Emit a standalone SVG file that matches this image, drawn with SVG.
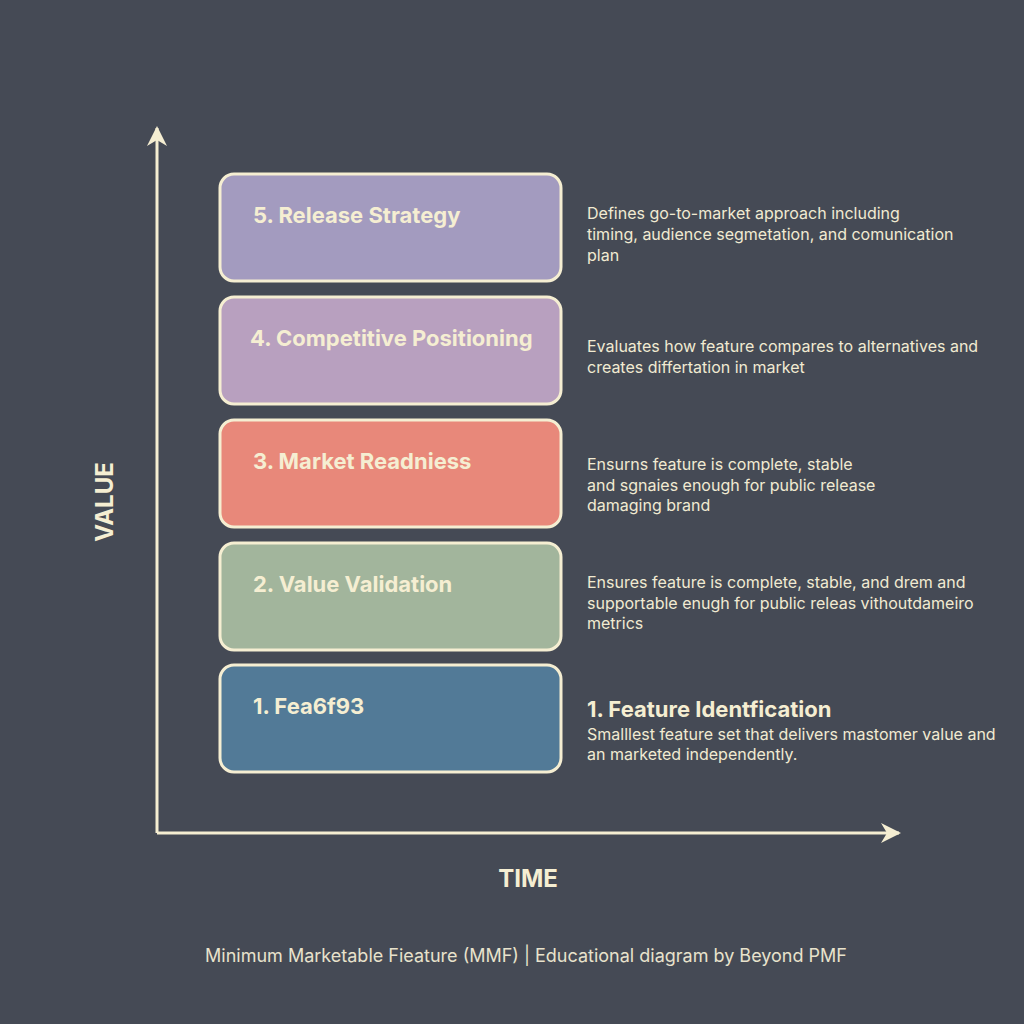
<svg xmlns="http://www.w3.org/2000/svg" width="1024" height="1024" viewBox="0 0 1024 1024">
<style>
.box{stroke:#f5eed2;stroke-width:3}
.t{font-family:"Inter","Liberation Sans",sans-serif;font-weight:700;font-size:22px;fill:#f5eed2}
.d{font-family:"Inter","Liberation Sans",sans-serif;font-size:16px;fill:#f1ead2}
.ax{font-family:"Inter","Liberation Sans",sans-serif;font-weight:700;font-size:24px;fill:#f5eed2}
</style>
<defs><marker id="ah" viewBox="0 0 20 20" refX="18" refY="10" markerWidth="20" markerHeight="20" orient="auto" markerUnits="userSpaceOnUse"><path d="M0,0 L20,10 L0,20 L6,10 Z" fill="#f5eed2"/></marker></defs>
<rect width="1024" height="1024" fill="#454a55"/>
<g id="connectors" stroke="#f5eed2" stroke-width="3" fill="none">
<path d="M157,833 V128" marker-end="url(#ah)"/>
<path d="M157,833 H899" marker-end="url(#ah)"/>
</g>
<text class="ax" transform="translate(113,502) rotate(-90)" text-anchor="middle">VALUE</text>
<text class="ax" x="528" y="887" text-anchor="middle">TIME</text>
<g id="n5"><rect class="box" x="220" y="174" width="341" height="107" rx="14" fill="#a39bbf"/><text class="t" x="253" y="223">5. Release Strategy</text>
<text class="d" x="587" y="219">Defines go-to-market approach including</text><text class="d" x="587" y="240">timing, audience segmetation, and comunication</text><text class="d" x="587" y="261">plan</text></g>
<g id="n4"><rect class="box" x="220" y="297" width="341" height="107" rx="14" fill="#b8a0bf"/><text class="t" x="250" y="346">4. Competitive Positioning</text>
<text class="d" x="587" y="352">Evaluates how feature compares to alternatives and</text><text class="d" x="587" y="373">creates differtation in market</text></g>
<g id="n3"><rect class="box" x="220" y="420" width="341" height="107" rx="14" fill="#e8887a"/><text class="t" x="253" y="469">3. Market Readniess</text>
<text class="d" x="587" y="470">Ensurns feature is complete, stable</text><text class="d" x="587" y="491">and sgnaies enough for public release</text><text class="d" x="587" y="511">damaging brand</text></g>
<g id="n2"><rect class="box" x="220" y="543" width="341" height="107" rx="14" fill="#a2b59c"/><text class="t" x="253" y="592">2. Value Validation</text>
<text class="d" x="587" y="588">Ensures feature is complete, stable, and drem and</text><text class="d" x="587" y="609">supportable enugh for public releas vithoutdameiro</text><text class="d" x="587" y="629">metrics</text></g>
<g id="n1"><rect class="box" x="220" y="665" width="341" height="107" rx="14" fill="#527a97"/><text class="t" x="253" y="714">1. Fea6f93</text>
<text class="t" x="587" y="717">1. Feature Identfication</text>
<text class="d" x="587" y="740">Smalllest feature set that delivers mastomer value and</text><text class="d" x="587" y="760">an marketed independently.</text></g>
<text x="526" y="962" text-anchor="middle" font-family="Inter,'Liberation Sans',sans-serif" font-size="18" fill="#e8e2cc">Minimum Marketable Fieature (MMF) | Educational diagram by Beyond PMF</text>
</svg>
